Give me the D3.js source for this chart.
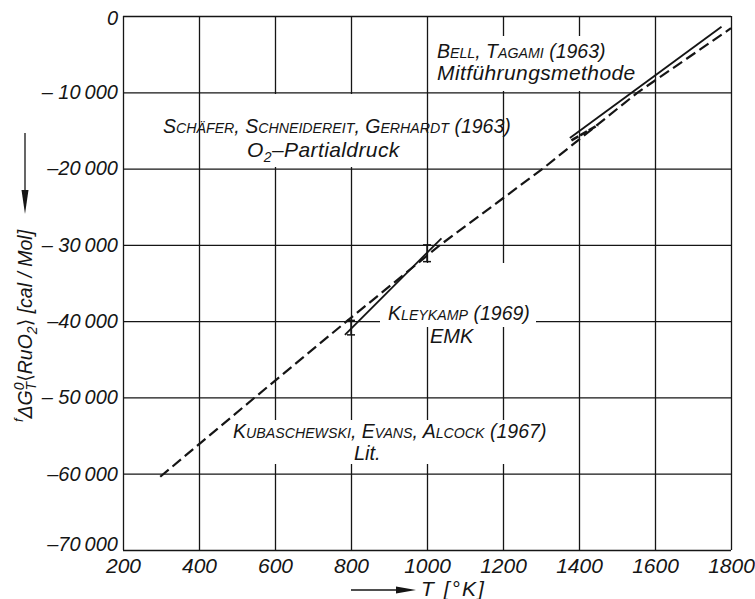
<!DOCTYPE html>
<html>
<head>
<meta charset="utf-8">
<script src="https://cdn.jsdelivr.net/npm/d3@7"></script>
<style>
  body { margin: 0; background: #fff; }
  svg { display: block; font-family: "Liberation Sans", Arial, sans-serif; font-style: italic; }
</style>
</head>
<body>
<svg width="755" height="599"></svg>
<script>
const width = 755;
const height = 599;
const plot = { left: 123, right: 731, top: 16, bottom: 550 };

// axis ticks
const xTicks = [200, 400, 600, 800, 1000, 1200, 1400, 1600, 1800];
const yTicks = [0, -10000, -20000, -30000, -40000, -50000, -60000, -70000];
const yTickLabels = ["0", "\u2013 10\u2009000", "\u201320\u2009000", "\u2013 30\u2009000", "\u201340\u2009000", "\u2013 50\u2009000", "\u201360\u2009000", "\u201370\u2009000"];

// Kubaschewski, Evans, Alcock (1967) - literature, dashed
const kubT = [298, 547, 789, 1035, 1305, 1555, 1800];
const kubG = [-60400, -50000, -40000, -30000, -20000, -10000, -1600];

// Kleykamp (1969) EMK - solid with error bars
const kleyT = [784, 1038];
const kleyG = [-41800, -29140];
const errT = [800, 1000];
const errLo = [-41800, -32200];
const errHi = [-39900, -30000];

// Bell, Tagami (1963) - solid
const bellT = [1376, 1775];
const bellG = [-16000, -1400];

// Schäfer, Schneidereit, Gerhardt (1963) - short segment
const schT = [1380, 1450];
const schG = [-16300, -14300];

const svg = d3.select('svg');

const xScale = d3.scaleLinear().domain([200, 1800]).range([plot.left, plot.right]);
const yScale = d3.scaleLinear().domain([0, -70000]).range([plot.top, plot.bottom]);

const ink = '#151515';

// grid + tick labels
svg.append('g')
    .attr('transform', `translate(${plot.left},0)`)
    .call(d3.axisLeft(yScale).tickValues(yTicks).tickSize(-(plot.right - plot.left)).tickPadding(5)
        .tickFormat((d, i) => yTickLabels[i]))
    .call(g => g.select('.domain').remove())
    .call(g => g.selectAll('line').attr('stroke', ink).attr('stroke-width', 1.3))
    .call(g => g.selectAll('text').attr('font-size', 20).attr('fill', ink)
        .attr('y', d => d === -70000 ? -6 : (d === 0 ? 2 : 0)));

svg.append('g')
    .attr('transform', `translate(0,${plot.bottom})`)
    .call(d3.axisBottom(xScale).tickValues(xTicks).tickSize(-(plot.bottom - plot.top)).tickPadding(8)
        .tickFormat(d3.format('d')))
    .call(g => g.select('.domain').remove())
    .call(g => g.selectAll('line').attr('stroke', ink).attr('stroke-width', 1.3))
    .call(g => g.selectAll('text').attr('font-size', 21).attr('fill', ink));

svg.selectAll('g').attr('font-family', null);

// white patches where the labels sit on the grid
const masks = [
    [432, 36, 640, 91],
    [204, 94, 422, 167],
    [380, 263, 536, 327],
    [228, 420, 553, 464]
];
svg.append('g').selectAll('rect')
    .data(masks)
    .enter().append('rect')
    .attr('x', d => d[0]).attr('y', d => d[1])
    .attr('width', d => d[2] - d[0]).attr('height', d => d[3] - d[1])
    .attr('fill', '#fff');

const line = d3.line().x(d => xScale(d[0])).y(d => yScale(d[1]));

function drawSeries(T, G, width, dash) {
    svg.append('path')
        .datum(d3.zip(T, G))
        .attr('d', line)
        .attr('fill', 'none')
        .attr('stroke', ink)
        .attr('stroke-width', width)
        .attr('stroke-dasharray', dash);
}

drawSeries(kubT, kubG, 2.2, '11,5');
drawSeries(kleyT, kleyG, 1.8, null);
drawSeries(bellT, bellG, 1.9, null);
drawSeries(schT, schG, 2.6, '8,2');

// Kleykamp error bars
const bars = svg.append('g').attr('stroke', ink).attr('stroke-width', 1.5);
errT.forEach((t, i) => {
    const x = xScale(t);
    bars.append('line').attr('x1', x).attr('x2', x).attr('y1', yScale(errLo[i])).attr('y2', yScale(errHi[i]));
    [errLo[i], errHi[i]].forEach(v => {
        bars.append('line').attr('x1', x - 4).attr('x2', x + 4).attr('y1', yScale(v)).attr('y2', yScale(v));
    });
});

// small-caps author names
function smallCaps(text, str, big, small) {
    let run = '', runSmall = null;
    const flush = () => {
        if (run) text.append('tspan').attr('font-size', runSmall ? small : big).text(run);
        run = '';
    };
    for (const c of str) {
        const isSmall = c !== c.toUpperCase();
        if (runSmall !== null && isSmall !== runSmall) flush();
        runSmall = isSmall;
        run += c.toUpperCase();
    }
    flush();
}

function label(x, y, str) {
    const t = svg.append('text').attr('x', x).attr('y', y).attr('fill', ink);
    smallCaps(t, str, 19.5, 14.2);
    return t;
}
function plain(x, y, str, size) {
    return svg.append('text').attr('x', x).attr('y', y).attr('fill', ink).attr('font-size', size || 20).text(str);
}

label(437, 58, 'Bell, Tagami (1963)');
plain(437, 80, 'Mitführungsmethode', 21).attr('letter-spacing', 0.4);

label(163, 133, 'Schäfer, Schneidereit, Gerhardt (1963)');
const o2 = svg.append('text').attr('x', 247).attr('y', 157).attr('fill', ink).attr('font-size', 21).attr('letter-spacing', 0.4);
o2.append('tspan').text('O');
o2.append('tspan').attr('font-size', 14).attr('dy', 5).text('2');
o2.append('tspan').attr('dy', -5).text('\u2013Partialdruck');

label(388, 320, 'Kleykamp (1969)');
plain(430, 343, 'EMK', 20);

label(233, 438, 'Kubaschewski, Evans, Alcock (1967)');
plain(354, 460, 'Lit.', 20);

// axis titles
const xt = svg.append('g');
xt.append('line').attr('x1', 351).attr('x2', 400).attr('y1', 590).attr('y2', 590).attr('stroke', ink).attr('stroke-width', 1.3);
xt.append('path').attr('d', 'M396,586.5 L416,590 L396,593.5 Z').attr('fill', ink);
xt.append('text').attr('x', 421).attr('y', 596).attr('font-size', 21).attr('letter-spacing', 2).attr('fill', ink).text('T [°K]');

const yt = svg.append('g');
yt.append('line').attr('x1', 25).attr('x2', 25).attr('y1', 133).attr('y2', 195).attr('stroke', ink).attr('stroke-width', 1.3);
yt.append('path').attr('d', 'M21.5,190 L25,214 L28.5,190 Z').attr('fill', ink);

const ylab = svg.append('text')
    .attr('transform', 'translate(32,326) rotate(-90)')
    .attr('text-anchor', 'middle')
    .attr('font-size', 19.5)
    .attr('fill', ink);
ylab.append('tspan').attr('font-size', 13).attr('dy', -9).text('f');
ylab.append('tspan').attr('dy', 9).text('\u0394G');
ylab.append('tspan').attr('font-size', 14).attr('dy', -8).text('0');
ylab.append('tspan').attr('font-size', 14).attr('dx', -8).attr('dy', 12).text('T');
ylab.append('tspan').attr('dy', -4).attr('font-family', 'DejaVu Sans').attr('font-style', 'normal').text('\u27E8');
ylab.append('tspan').text('RuO');
ylab.append('tspan').attr('font-size', 14).attr('dy', 5).text('2');
ylab.append('tspan').attr('dy', -5).attr('font-family', 'DejaVu Sans').attr('font-style', 'normal').text('\u27E9');
ylab.append('tspan').text(' [cal / Mol]');
</script>
</body>
</html>
